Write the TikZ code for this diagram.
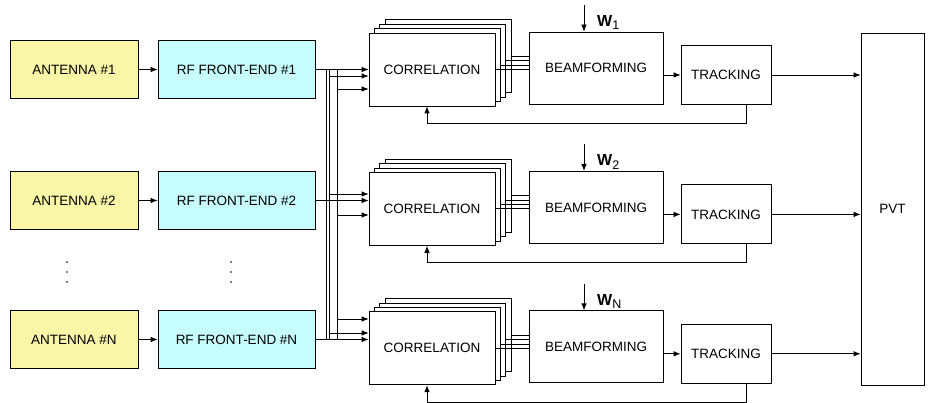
\documentclass[tikz,border=0pt]{standalone}
\usepackage{fontspec}
\setmainfont{Liberation Sans}
\usetikzlibrary{arrows.meta,calc}
\definecolor{antyellow}{RGB}{250,246,168}
\definecolor{rfcyan}{RGB}{198,252,252}
\begin{document}
\begin{tikzpicture}[x=1pt,y=-1pt,
  box/.style={draw, line width=0.8pt, inner sep=0pt, align=center, font=\fontsize{13.5}{16}\selectfont},
  arr/.style={line width=0.8pt, -{Latex[length=7pt,width=5.5pt]}},
  ln/.style={line width=0.8pt}]
\useasboundingbox (0,0) rectangle (934,403);

\node[box, minimum width=63, minimum height=352] (pvt) at (892.5,209) {PVT};

\foreach \r/\ya/\d/\lab in {1/69.5/0/1, 2/200.5/139.4/2, 3/339.5/278.8/N}{
  \node[box, fill=antyellow, minimum width=128, minimum height=58] (ant\r) at (74,\ya) {ANTENNA \#\lab};
  \node[box, fill=rfcyan, minimum width=157, minimum height=58] (rf\r) at (236.5,\ya) {RF FRONT-END \#\lab};
  \draw[arr] (ant\r) -- (rf\r);
  \foreach \k in {3,2,1}{
    \node[box, fill=white, minimum width=126, minimum height=73] (c\r b\k) at ({432+5.3*\k},{69.5+\d-4.4*\k}) {};
  }
  \node[box, fill=white, minimum width=126, minimum height=73] (c\r) at (432,{69.5+\d}) {CORRELATION};
  \node[box, minimum width=134, minimum height=72] (bf\r) at (596,{68+\d}) {BEAMFORMING};
  \node[box, minimum width=90, minimum height=59] (tr\r) at (726,{75+\d}) {TRACKING};
  \foreach \k in {1,2,3}{
    \draw[ln] (c\r b\k.east) -- (bf\r.west |- c\r b\k.east);
  }
  \draw[ln] (c\r.east) -- (bf\r.west |- c\r.east);
  \draw[arr] (bf\r.east |- tr\r.west) -- (tr\r.west);
  \draw[arr] (tr\r.east) -- (pvt.west |- tr\r.east);
  \coordinate (wt\r) at (584,{5+\d});
  \draw[arr] (wt\r) -- (wt\r |- bf\r.north);
  \node[anchor=base west, inner sep=0pt] (w\r) at (597,{26.5+\d})
    {{\fontsize{16}{16}\selectfont\bfseries W}\raisebox{-3.5pt}{\fontsize{12.5}{12.5}\selectfont \lab}};
  \coordinate (fb\r) at (746,{123.3+\d});
  \draw[arr] (tr\r.south -| fb\r) -- (fb\r) -| ([xshift=-5pt]c\r.south);
}

% direct RF outputs
\draw[arr] (rf1.east) -- (c1.west |- rf1.east);
\draw[arr] (rf2.east) -- (c2.west |- rf2.east);
\draw[arr] (rf3.east) -- (c3.west |- rf3.east);

% bus lines
\coordinate (bA1) at (326.5,69.5); \coordinate (bA2) at (326.5,339.5);
\coordinate (bB1) at (329.5,69.5); \coordinate (bB2) at (329.5,339.5);
\coordinate (bC1) at (337,69.5);   \coordinate (bC2) at (337,339.5);
\draw[ln] (bA1) -- (bA2);
\draw[ln] (bB1) -- (bB2);
\draw[ln] (bC1) -- (bC2);

% branches
\coordinate (s12) at (329.5,76);  \draw[arr] (s12) -- (s12 -| c1.west);
\coordinate (s13) at (337,89);    \draw[arr] (s13) -- (s13 -| c1.west);
\coordinate (s21) at (329.5,194); \draw[arr] (s21) -- (s21 -| c2.west);
\coordinate (s23) at (337,215);   \draw[arr] (s23) -- (s23 -| c2.west);
\coordinate (s31) at (337,319);   \draw[arr] (s31) -- (s31 -| c3.west);
\coordinate (s32) at (329.5,333); \draw[arr] (s32) -- (s32 -| c3.west);

% dots
\foreach \x in {67,231}{
  \foreach \y in {262,272,282}{
    \fill (\x,\y) circle (0.8);
  }
}
\end{tikzpicture}
\end{document}
